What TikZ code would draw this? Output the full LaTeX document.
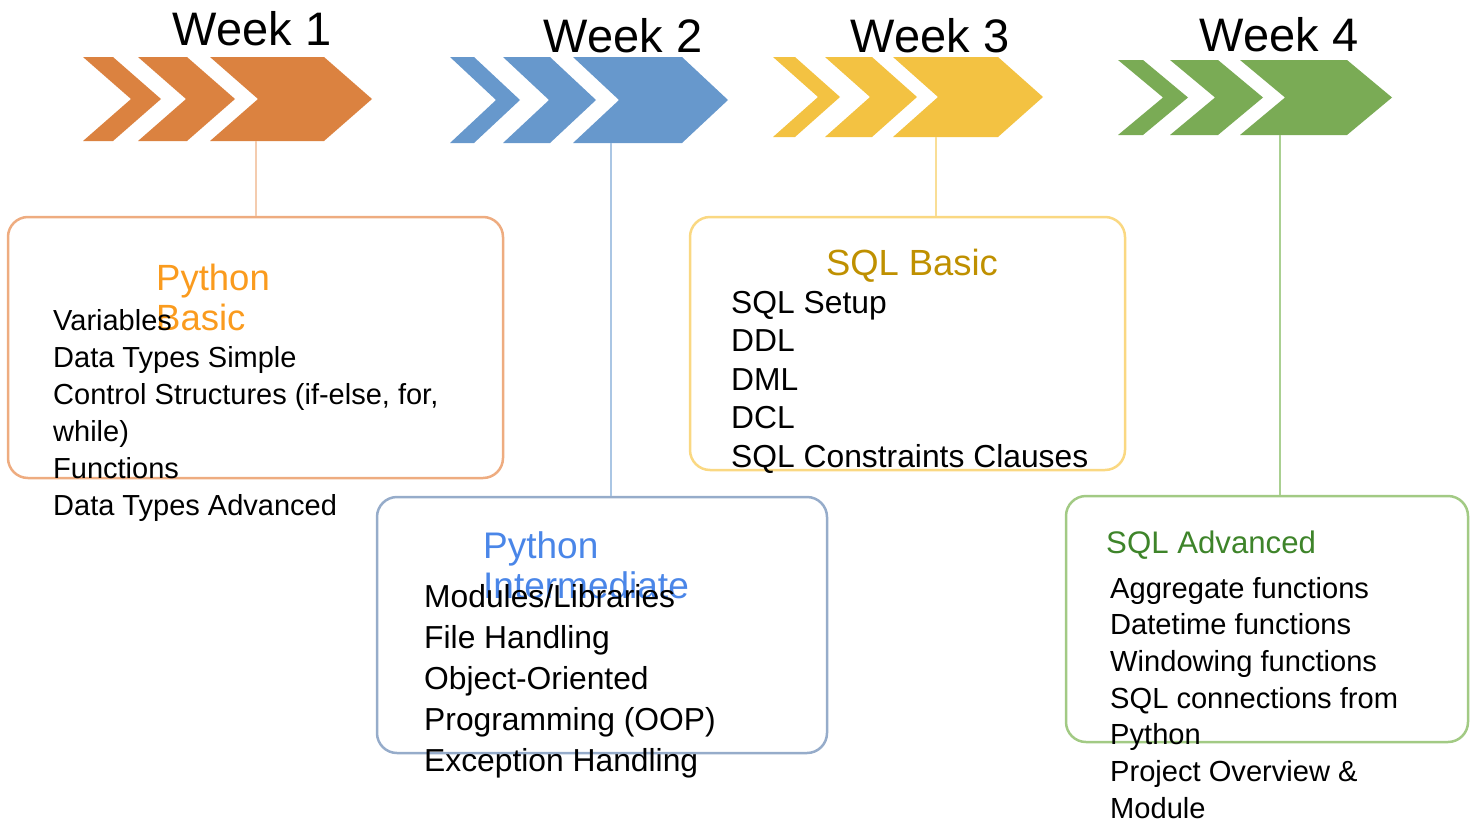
\documentclass[tikz,border=0pt]{standalone}
\usepackage{fontspec}
\setmainfont{Liberation Sans}
\definecolor{corange}{RGB}{219,130,64}
\definecolor{cblue}{RGB}{103,152,204}
\definecolor{cyellow}{RGB}{243,194,66}
\definecolor{cgreen}{RGB}{122,171,85}
\definecolor{lorange}{RGB}{238,172,128}
\definecolor{lblue}{RGB}{150,172,202}
\definecolor{lyellow}{RGB}{250,216,130}
\definecolor{lgreen}{RGB}{162,202,132}
\definecolor{korange}{RGB}{244,204,175}
\definecolor{kblue}{RGB}{170,198,228}
\definecolor{kyellow}{RGB}{249,222,150}
\definecolor{kgreen}{RGB}{170,208,145}
\definecolor{torange}{RGB}{250,155,30}
\definecolor{tblue}{RGB}{74,134,232}
\definecolor{tgold}{RGB}{191,144,0}
\definecolor{tgreen}{RGB}{62,132,42}
\newcommand{\mychev}[6]{% left, top, topwidth, slant, half height, colour
  \fill[#6] (#1,#2) -- ({#1+#3},#2) -- ({#1+#3+#4},{#2+#5}) -- ({#1+#3},{#2+2*#5}) -- (#1,{#2+2*#5}) -- ({#1+#4},{#2+#5}) -- cycle;}
\begin{document}
\begin{tikzpicture}[x=1pt,y=-1pt,
  weeklbl/.style={anchor=base,inner sep=0pt,font=\fontsize{47}{50}\selectfont},
  box/.style={draw,rounded corners=20pt,line width=2.5pt,inner sep=0pt},
  conn/.style={line width=2pt},
  item/.style={anchor=base west,inner sep=0pt},
  ttl/.style={anchor=base west,inner sep=0pt}]
\useasboundingbox (0,0) rectangle (1478,822);
% chevrons
\mychev{83}{57}{30}{48}{42}{corange}
\mychev{138}{57}{49}{48}{42}{corange}
\mychev{210}{57}{114}{48}{42}{corange}
\mychev{450}{57}{24}{46}{43}{cblue}
\mychev{503}{57}{47}{46}{43}{cblue}
\mychev{573}{57}{109}{46}{43}{cblue}
\mychev{773}{57}{22}{45}{40}{cyellow}
\mychev{825}{57}{47}{45}{40}{cyellow}
\mychev{893}{57}{105}{45}{40}{cyellow}
\mychev{1118}{60}{25}{45}{37.5}{cgreen}
\mychev{1170}{60}{48}{45}{37.5}{cgreen}
\mychev{1240}{60}{107}{45}{37.5}{cgreen}
\coordinate (w1) at (256,141);
\coordinate (w2) at (611,143);
\coordinate (w3) at (936,137);
\coordinate (w4) at (1280,135);
% week labels
\node[weeklbl] (l1) at (252,45) {Week 1};
\node[weeklbl] (l2) at (623,52) {Week 2};
\node[weeklbl] (l3) at (930,52) {Week 3};
\node[weeklbl] (l4) at (1279,51) {Week 4};
% boxes
\node[box,draw=lorange,minimum width=495pt,minimum height=261pt] (B1) at (255.5,347.5) {};
\node[box,draw=lblue,minimum width=450pt,minimum height=256pt] (B2) at (602,625) {};
\node[box,draw=lyellow,minimum width=435pt,minimum height=253pt] (B3) at (907.5,343.5) {};
\node[box,draw=lgreen,minimum width=402pt,minimum height=246pt] (B4) at (1267,619) {};
% connectors
\draw[conn,korange] (w1) -- (w1 |- B1.north);
\draw[conn,kblue] (w2) -- (w2 |- B2.north);
\draw[conn,kyellow] (w3) -- (w3 |- B3.north);
\draw[conn,kgreen] (w4) -- (w4 |- B4.north);
% box 1
\begin{scope}[font=\fontsize{36.5}{40}\selectfont]
\node[ttl,text=torange] (t1a) at (156,290) {Python};
\node[ttl,text=torange] (t1b) at (156,330) {Basic};
\end{scope}
\begin{scope}[font=\fontsize{29}{37}\selectfont]
\foreach \t [count=\i from 0] in {Variables,Data Types Simple,{Control Structures (if-else, for,}, while),Functions,Data Types Advanced}
  \node[item] (p\i) at (53,{330+37*\i}) {\t};
\end{scope}
% box 2
\begin{scope}[font=\fontsize{37}{40}\selectfont]
\node[ttl,text=tblue] (t2a) at (483,558) {Python};
\node[ttl,text=tblue] (t2b) at (483,598) {Intermediate};
\end{scope}
\begin{scope}[font=\fontsize{31.8}{40}\selectfont]
\foreach \t [count=\i from 0] in {Modules/Libraries,File Handling,Object-Oriented,Programming (OOP),Exception Handling}
  \node[item] (q\i) at (424,{607+41*\i}) {\t};
\end{scope}
% box 3
\node[anchor=base,inner sep=0pt,text=tgold,font=\fontsize{36.4}{40}\selectfont] (t3) at (912,275) {SQL Basic};
\begin{scope}[font=\fontsize{31.8}{40}\selectfont]
\foreach \t [count=\i from 0] in {SQL Setup,DDL,DML,DCL,SQL Constraints Clauses}
  \node[item] (r\i) at (731,{313+38.5*\i}) {\t};
\end{scope}
% box 4
\node[ttl,text=tgreen,font=\fontsize{31.2}{36}\selectfont] (t4) at (1106,553) {SQL Advanced};
\begin{scope}[font=\fontsize{29.1}{37}\selectfont]
\foreach \t [count=\i from 0] in {Aggregate functions,Datetime functions,Windowing functions,SQL connections from,Python,Project Overview \&,Module}
  \node[item] (s\i) at (1110,{598+36.7*\i}) {\t};
\end{scope}
\end{tikzpicture}
\end{document}
